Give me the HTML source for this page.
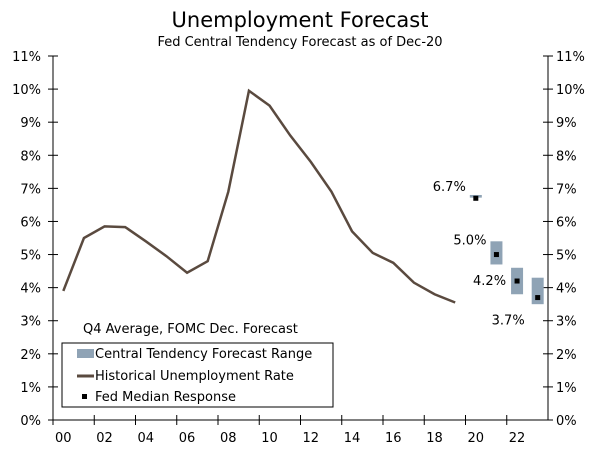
<!DOCTYPE html>
<html><head><meta charset="utf-8"><style>
body{margin:0;background:#fff;font-family:"DejaVu Sans","Liberation Sans",sans-serif;}
svg text{font-family:"DejaVu Sans","Liberation Sans",sans-serif;fill:#000;}
</style></head><body>
<svg id="chart" width="600" height="456" xmlns="http://www.w3.org/2000/svg">
<text x="300" y="27" text-anchor="middle" font-size="21">Unemployment Forecast</text>
<text x="300" y="46" text-anchor="middle" font-size="13">Fed Central Tendency Forecast as of Dec-20</text>
<g id="axes"></g>
<g id="marks"></g>
<text x="83" y="333" font-size="13">Q4 Average, FOMC Dec. Forecast</text>
<g>
<rect x="62" y="343" width="271" height="64" fill="#fff" stroke="#000" stroke-width="1"/>
<rect x="77" y="349" width="17" height="9" fill="#8fa3b5"/>
<text x="95" y="358" font-size="13">Central Tendency Forecast Range</text>
<line x1="77" y1="376" x2="94" y2="376" stroke="#5a4a3f" stroke-width="3"/>
<text x="95" y="380" font-size="13">Historical Unemployment Rate</text>
<rect x="82" y="394" width="5" height="5" fill="#000"/>
<text x="95" y="401" font-size="13">Fed Median Response</text>
</g>
</svg>
<script>
const years=[2000,2001,2002,2003,2004,2005,2006,2007,2008,2009,2010,2011,2012,2013,2014,2015,2016,2017,2018,2019];
const rates=[3.9,5.5,5.85,5.83,5.4,4.95,4.45,4.8,6.9,9.95,9.5,8.6,7.8,6.9,5.7,5.05,4.75,4.15,3.8,3.55];
const fYears=[2020,2021,2022,2023];
const fLow=[6.72,4.7,3.8,3.5];
const fHigh=[6.8,5.4,4.6,4.3];
const fMedian=[6.7,5.0,4.2,3.7];
const fLabels=["6.7%","5.0%","4.2%","3.7%"];
const yTicks=[0,1,2,3,4,5,6,7,8,9,10,11];
const xTickLabels=["00","02","04","06","08","10","12","14","16","18","20","22"];
const NS="http://www.w3.org/2000/svg";
const L=53,R=548,T=56,B=420,Y0=2000,NY=24;
const cw=(R-L)/NY;
const xs=y=>L+cw*(y-Y0+0.5);
const ys=v=>B-(B-T)*v/11;
function mk(tag,attrs,parent){const e=document.createElementNS(NS,tag);for(const k in attrs)e.setAttribute(k,attrs[k]);parent.appendChild(e);return e;}
const ax=document.getElementById('axes'),mg=document.getElementById('marks');
let a=mk('line',{x1:L,y1:T,x2:L,y2:B,stroke:'#000'},ax);


a=mk('line',{x1:R,y1:T,x2:R,y2:B,stroke:'#000'},ax);


a=mk('line',{x1:L,y1:B,x2:R,y2:B,stroke:'#000'},ax);


yTicks.forEach(v=>{const y=ys(v);
mk('line',{x1:L-5,y1:y,x2:L+5,y2:y,stroke:'#000'},ax);
mk('line',{x1:R-5,y1:y,x2:R+5,y2:y,stroke:'#000'},ax);
let t=mk('text',{x:L-12,y:y+5,'text-anchor':'end','font-size':13},ax);t.textContent=v+'%';


t=mk('text',{x:R+8,y:y+5,'font-size':13},ax);t.textContent=v+'%';

});
xTickLabels.forEach((lab,i)=>{const x=L+cw*2*i;
mk('line',{x1:x,y1:B-5,x2:x,y2:B+5,stroke:'#000'},ax);
const t=mk('text',{x:x+cw/2,y:B+22,'text-anchor':'middle','font-size':13},ax);t.textContent=lab;

});
const pts=years.map((y,i)=>xs(y)+','+ys(rates[i])).join(' ');
const pl=mk('polyline',{points:pts,fill:'none',stroke:'#5a4a3f','stroke-width':2.5},mg);


const lblDx=[-10,-10,-11,-13];
const lblDy=[-4,3,4,27];
fYears.forEach((y,i)=>{const x=xs(y);
const r=mk('rect',{x:x-6,y:ys(fHigh[i]),width:12,height:Math.max(2,ys(fLow[i])-ys(fHigh[i])),fill:'#8fa3b5'},mg);


const m=mk('rect',{x:x-2.5,y:ys(fMedian[i])-2.5,width:5,height:5,fill:'#000'},mg);


const ty=(i===0||i===1)?ys(fHigh[i])+lblDy[i]:ys(fMedian[i])+lblDy[i];
const t=mk('text',{x:x+lblDx[i],y:ty,'text-anchor':'end','font-size':13},mg);t.textContent=fLabels[i];

});
</script>
</body></html>
